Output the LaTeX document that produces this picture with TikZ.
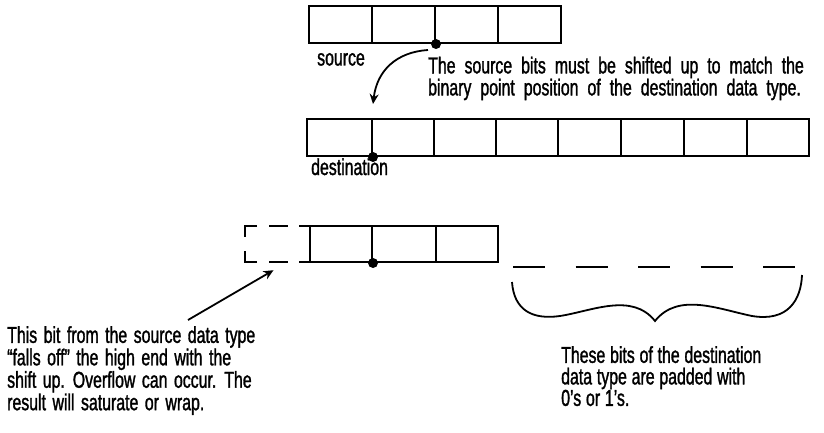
\documentclass[tikz,border=0pt]{standalone}
\usepackage{fontspec}
\setmainfont[FakeStretch=0.69,FakeBold=1.3]{Liberation Sans}
\usetikzlibrary{arrows.meta,calc}
\newcommand\fonttop{\fontsize{23}{22}\selectfont\spaceskip=9pt plus 1pt\relax}
\newcommand\fontleft{\fontsize{23}{20.3}\selectfont\spaceskip=6.5pt plus 1pt\relax}
\newcommand\fontright{\fontsize{23}{21.5}\selectfont\spaceskip=4.8pt plus 1pt\relax}
\tikzset{
  cell/.style={draw, line width=2pt, inner sep=0pt},
  bitdot/.style={circle, fill=black, minimum size=10pt, inner sep=0pt},
  lbl/.style={inner sep=0pt, font=\fontsize{23}{22}\selectfont},
  para/.style={inner sep=0pt, align=left, anchor=north west},
  arr/.style={line width=1.8pt, -{Stealth[length=10pt,width=9pt]}},
  dashbox/.style={line width=2pt, dash pattern=on 11pt off 11.5pt on 19pt off 11.5pt on 24pt off 20pt},
  padline/.style={line width=2pt, dash pattern=on 32pt off 30.5pt},
  brace/.style={line width=1.8pt}
}
\begin{document}
\begin{tikzpicture}[x=1pt,y=-1pt]
\useasboundingbox (0,0) rectangle (824,433);
% source register
\foreach \a/\b [count=\i] in {309/372,372/435,435/498,498/561}
  \node[cell, minimum width={(\b-\a)*1pt}, minimum height=37pt] (s\i) at ({(\a+\b)/2},24.5) {};
\node[bitdot] (sp) at (s2.south east) {};
\node[lbl, anchor=base west] (slbl) at (317,65.5) {source};
% destination register
\foreach \a/\b [count=\i] in {307/372,372/434,434/496,496/558,558/621,621/684,684/747,747/809}
  \node[cell, minimum width={(\b-\a)*1pt}, minimum height=37pt] (d\i) at ({(\a+\b)/2},137.5) {};
\node[bitdot] (dp) at (d1.south east) {};
\node[lbl, anchor=base west] (dlbl) at (311,175) {destination};
% top annotation
\node[para, font=\fonttop] (ttxt) at (428,56.5)
  {The source bits must be shifted up to match the\\binary point position of the destination data type.};
% curved arrow
\coordinate (ca) at (428,50);
\coordinate (cb) at ($(d1.north east)+(0,-14)$);
\draw[arr] (ca) .. controls (397,52) and (377,70) .. (cb);
% bottom register
\node[minimum width=65pt, minimum height=36pt, inner sep=0pt] (bx) at (277.5,244) {};
\draw[dashbox] (bx.north east) -- (bx.north west) -- (bx.west);
\draw[dashbox] (bx.south east) -- (bx.south west) -- (bx.west);
\foreach \a/\b [count=\i] in {310/372,372/436,436/498}
  \node[cell, minimum width={(\b-\a)*1pt}, minimum height=36pt] (b\i) at ({(\a+\b)/2},244) {};
\node[bitdot] (bp) at (b1.south east) {};
% padded bits
\coordinate (pa) at (513,267);
\coordinate (pb) at (797,267);
\draw[padline] (pa) -- (pb);
\coordinate (br1) at (512,282);
\coordinate (brt) at (655,321);
\coordinate (br2) at (802,275);
\draw[brace] (br1) .. controls (514,310) and (532,320) .. (560,316)
  .. controls (592,311) and (632,292) .. (brt)
  .. controls (678,292) and (718,309) .. (752,316)
  .. controls (788,322) and (801,300) .. (br2);
% left annotation
\node[para, font=\fontleft] (ltxt) at (7,326)
  {This bit from the source data type\\“falls off” the high end with the\\shift up. Overflow can occur. The\\result will saturate or wrap.};
\coordinate (la) at (188,320);
\coordinate (lb) at ($(bx.south)+(-4,8)$);
\draw[arr] (la) -- (lb);
% right annotation
\node[para, font=\fontright] (rtxt) at (561,346)
  {These bits of the destination\\data type are padded with\\0’s or 1’s.};
\end{tikzpicture}
\end{document}
